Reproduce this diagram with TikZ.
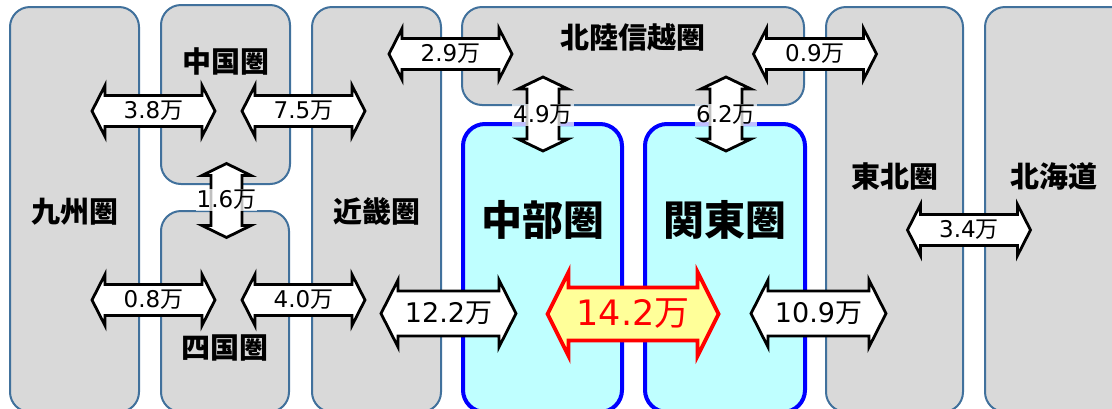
\documentclass[tikz,border=0pt]{standalone}
\usepackage{fontspec}
\usetikzlibrary{fit}
\newfontfamily\jp{Noto Sans CJK JP}
\newfontfamily\dv{DejaVu Sans}
\definecolor{boxgray}{HTML}{D9D9D9}
\definecolor{boxline}{HTML}{41719C}
\definecolor{cyanfill}{HTML}{BFFFFF}
\definecolor{hiyellow}{HTML}{FFFF99}
\newcommand\man[1]{{\dv #1}{\jp 万}}
% horizontal double arrow: centre x, centre y, half length, half head width, half shaft width, head length, style
\newcommand\flowh[7]{%
  \draw[#7] ({#1-#3},#2) -- ({#1-#3+#6},{#2-#4}) -- ({#1-#3+#6},{#2-#5})
    -- ({#1+#3-#6},{#2-#5}) -- ({#1+#3-#6},{#2-#4}) -- ({#1+#3},#2)
    -- ({#1+#3-#6},{#2+#4}) -- ({#1+#3-#6},{#2+#5}) -- ({#1-#3+#6},{#2+#5})
    -- ({#1-#3+#6},{#2+#4}) -- cycle;}
% vertical double arrow
\newcommand\flowv[7]{%
  \draw[#7] (#1,{#2-#3}) -- ({#1+#4},{#2-#3+#6}) -- ({#1+#5},{#2-#3+#6})
    -- ({#1+#5},{#2+#3-#6}) -- ({#1+#4},{#2+#3-#6}) -- (#1,{#2+#3})
    -- ({#1-#4},{#2+#3-#6}) -- ({#1-#5},{#2+#3-#6}) -- ({#1-#5},{#2-#3+#6})
    -- ({#1-#4},{#2-#3+#6}) -- cycle;}
\tikzset{
  region/.style={draw=boxline, fill=boxgray, line width=2pt, rounded corners=20pt, rectangle, inner sep=0pt},
  core/.style={draw=blue, fill=cyanfill, line width=4pt, rounded corners=22pt, rectangle, inner sep=0pt},
  rlabel/.style={font=\jp\bfseries\fontsize{29}{29}\selectfont, inner sep=0pt},
  clabel/.style={font=\jp\bfseries\fontsize{41}{41}\selectfont, inner sep=0pt},
  flowline/.style={draw=black, fill=white, line width=2.8pt, line join=miter},
  mainline/.style={draw=red, fill=hiyellow, line width=3.8pt, line join=miter},
  flabel/.style={inner sep=0pt, font=\fontsize{23}{23}\selectfont},
  vlabel/.style={fill=white, fill opacity=0.75, text opacity=1, inner sep=1pt,
    font=\fontsize{23}{23}\selectfont},
  biglabel/.style={inner sep=0pt, font=\fontsize{27}{27}\selectfont},
  mainlabel/.style={inner sep=0pt, text=red, font=\fontsize{35}{35}\selectfont}
}
\begin{document}
\begin{tikzpicture}[x=1pt,y=-1pt]
\useasboundingbox (0,0) rectangle (1112,408);
\clip (0,0) rectangle (1112,408);
% regions
\node[region, fit={(10,7) (139,412)}] (kyushu) {};
\node[region, fit={(161,5) (290,184)}] (chugoku) {};
\node[region, fit={(161,211) (289,412)}] (shikoku) {};
\node[region, fit={(312,7) (441,412)}] (kinki) {};
\node[region, fit={(462,7) (804,105)}] (hokuriku) {};
\node[region, fit={(826,7) (963,412)}] (tohoku) {};
\node[region, fit={(985,7) (1140,412)}] (hokkaido) {};
\node[core, fit={(463,124) (622,412)}] (chubu) {};
\node[core, fit={(645,124) (805,412)}] (kanto) {};
% region labels
\node[rlabel] (lkyushu) at (75,212) {九州圏};
\node[rlabel] (lchugoku) at (226,61) {中国圏};
\node[rlabel] (lshikoku) at (225,348) {四国圏};
\node[rlabel] (lkinki) at (377,212) {近畿圏};
\node[rlabel] (lhokuriku) at (633,37) {北陸信越圏};
\node[rlabel] (ltohoku) at (895,176) {東北圏};
\node[rlabel] (lhokkaido) at (1054,176) {北海道};
\node[clabel] (lchubu) at (543,220) {中部圏};
\node[clabel] (lkanto) at (725,220) {関東圏};
% flows
\flowh{153.5}{111}{61.5}{25.5}{15.5}{13}{flowline}
\node[flabel] (f38) at (153.5,111) {\man{3.8}};
\flowh{303.5}{111}{61.5}{25.5}{15.5}{13}{flowline}
\node[flabel] (f75) at (303.5,111) {\man{7.5}};
\flowh{450.5}{54}{61.5}{25.5}{15.5}{13}{flowline}
\node[flabel] (f29) at (450.5,54) {\man{2.9}};
\flowh{815}{54}{61.5}{25.5}{15.5}{13}{flowline}
\node[flabel] (f09) at (815,54) {\man{0.9}};
\flowh{153.5}{300}{61.5}{25.5}{15.5}{13}{flowline}
\node[flabel] (f08) at (153.5,300) {\man{0.8}};
\flowh{303.5}{300}{61.5}{25.5}{15.5}{13}{flowline}
\node[flabel] (f40) at (303.5,300) {\man{4.0}};
\flowh{969}{230}{61.5}{25.5}{15.5}{13}{flowline}
\node[flabel] (f34) at (969,230) {\man{3.4}};
\flowv{226.5}{200.5}{37}{24.5}{15.5}{12}{flowline}
\node[vlabel] (f16) at (226.5,200) {\man{1.6}};
\flowv{543}{114}{37}{25}{16}{12}{flowline}
\node[vlabel] (f49) at (543,115) {\man{4.9}};
\flowv{726}{114}{37}{25}{16}{12}{flowline}
\node[vlabel] (f62) at (726,115) {\man{6.2}};
\flowh{448.5}{313.5}{67.5}{33.5}{22.5}{17}{flowline}
\node[biglabel] (f122) at (448.5,313.5) {\man{12.2}};
\flowh{818.5}{313.5}{67.5}{33.5}{22.5}{17}{flowline}
\node[biglabel] (f109) at (818.5,313.5) {\man{10.9}};
\flowh{633}{314}{85.5}{42}{26.5}{21}{mainline}
\node[mainlabel] (f142) at (633,314) {\man{14.2}};
\end{tikzpicture}
\end{document}
